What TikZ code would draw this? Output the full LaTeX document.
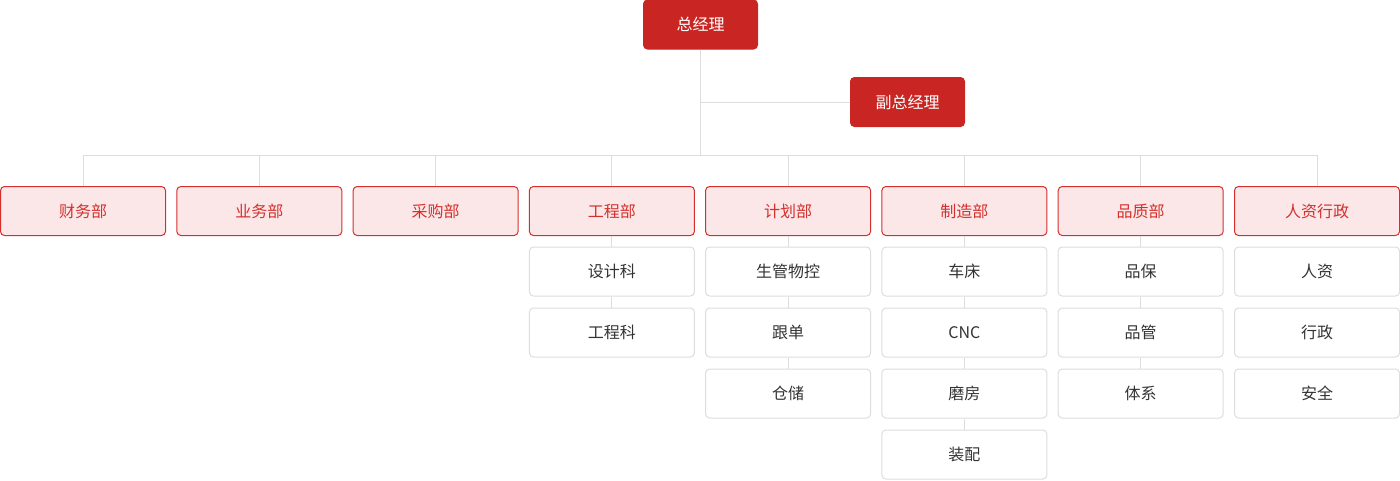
\documentclass[tikz,border=0pt]{standalone}
\usepackage{fontspec}
\newfontfamily\cjk{Noto Sans CJK SC}
\definecolor{boss}{HTML}{C92623}
\definecolor{deptfill}{HTML}{FBE7E7}
\definecolor{deptline}{HTML}{D3302D}
\definecolor{grayline}{HTML}{DDDDDD}
\definecolor{subtext}{HTML}{333333}

\begin{document}
\begin{tikzpicture}[x=1pt,y=-1pt]
			\tikzstyle{every node} = [font=\cjk\fontsize{16}{19}\selectfont,rounded corners=4pt,line width=1pt,inner sep=0pt];
			\tikzstyle{head} = [fill=boss,draw=boss,text=white,minimum width=114pt,minimum height=49pt];
			\tikzstyle{dept} = [fill=deptfill,draw=deptline,text=deptline,minimum width=165pt,minimum height=49pt];
			\tikzstyle{sub} = [fill=white,draw=grayline,text=subtext,minimum width=165pt,minimum height=49pt];
			\tikzstyle{link} = [draw=grayline,line width=1pt];
			\useasboundingbox (0,0) rectangle (1400,480);
			% top
			\node[head] (gm) at (700.5, 24.5) {总经理};
			\node[head] (vgm) at (907.5, 102) {副总经理};
			\coordinate (bus) at (700.5, 155.5);
			% departments
			\node[dept] (d1) at (83.0, 211) {财务部};
			\node[dept] (d2) at (259.3, 211) {业务部};
			\node[dept] (d3) at (435.6, 211) {采购部};
			\node[dept] (d4) at (611.9, 211) {工程部};
			\node[dept] (d5) at (788.1, 211) {计划部};
			\node[dept] (d6) at (964.4, 211) {制造部};
			\node[dept] (d7) at (1140.7, 211) {品质部};
			\node[dept] (d8) at (1317.0, 211) {人资行政};
			% sections
			\node[sub] (s41) at (611.9, 271.5) {设计科};
			\node[sub] (s42) at (611.9, 332.5) {工程科};
			\node[sub] (s51) at (788.1, 271.5) {生管物控};
			\node[sub] (s52) at (788.1, 332.5) {跟单};
			\node[sub] (s53) at (788.1, 393.5) {仓储};
			\node[sub] (s61) at (964.4, 271.5) {车床};
			\node[sub] (s62) at (964.4, 332.5) {CNC};
			\node[sub] (s63) at (964.4, 393.5) {磨房};
			\node[sub] (s64) at (964.4, 454.5) {装配};
			\node[sub] (s71) at (1140.7, 271.5) {品保};
			\node[sub] (s72) at (1140.7, 332.5) {品管};
			\node[sub] (s73) at (1140.7, 393.5) {体系};
			\node[sub] (s81) at (1317.0, 271.5) {人资};
			\node[sub] (s82) at (1317.0, 332.5) {行政};
			\node[sub] (s83) at (1317.0, 393.5) {安全};
			% links
			\draw[link] (gm) -- (bus);
			\draw[link] (vgm.west) -- (vgm.west -| gm);
			\draw[link] (d1.north) |- (bus);
			\draw[link] (d8.north) |- (bus);
			\draw[link] (d2.north) -- (d2.north |- bus);
			\draw[link] (d3.north) -- (d3.north |- bus);
			\draw[link] (d4.north) -- (d4.north |- bus);
			\draw[link] (d5.north) -- (d5.north |- bus);
			\draw[link] (d6.north) -- (d6.north |- bus);
			\draw[link] (d7.north) -- (d7.north |- bus);
			\draw[link] (d4) -- (s41);
			\draw[link] (s41) -- (s42);
			\draw[link] (d5) -- (s51);
			\draw[link] (s51) -- (s52);
			\draw[link] (s52) -- (s53);
			\draw[link] (d6) -- (s61);
			\draw[link] (s61) -- (s62);
			\draw[link] (s62) -- (s63);
			\draw[link] (s63) -- (s64);
			\draw[link] (d7) -- (s71);
			\draw[link] (s71) -- (s72);
			\draw[link] (s72) -- (s73);
		\end{tikzpicture}
\end{document}
